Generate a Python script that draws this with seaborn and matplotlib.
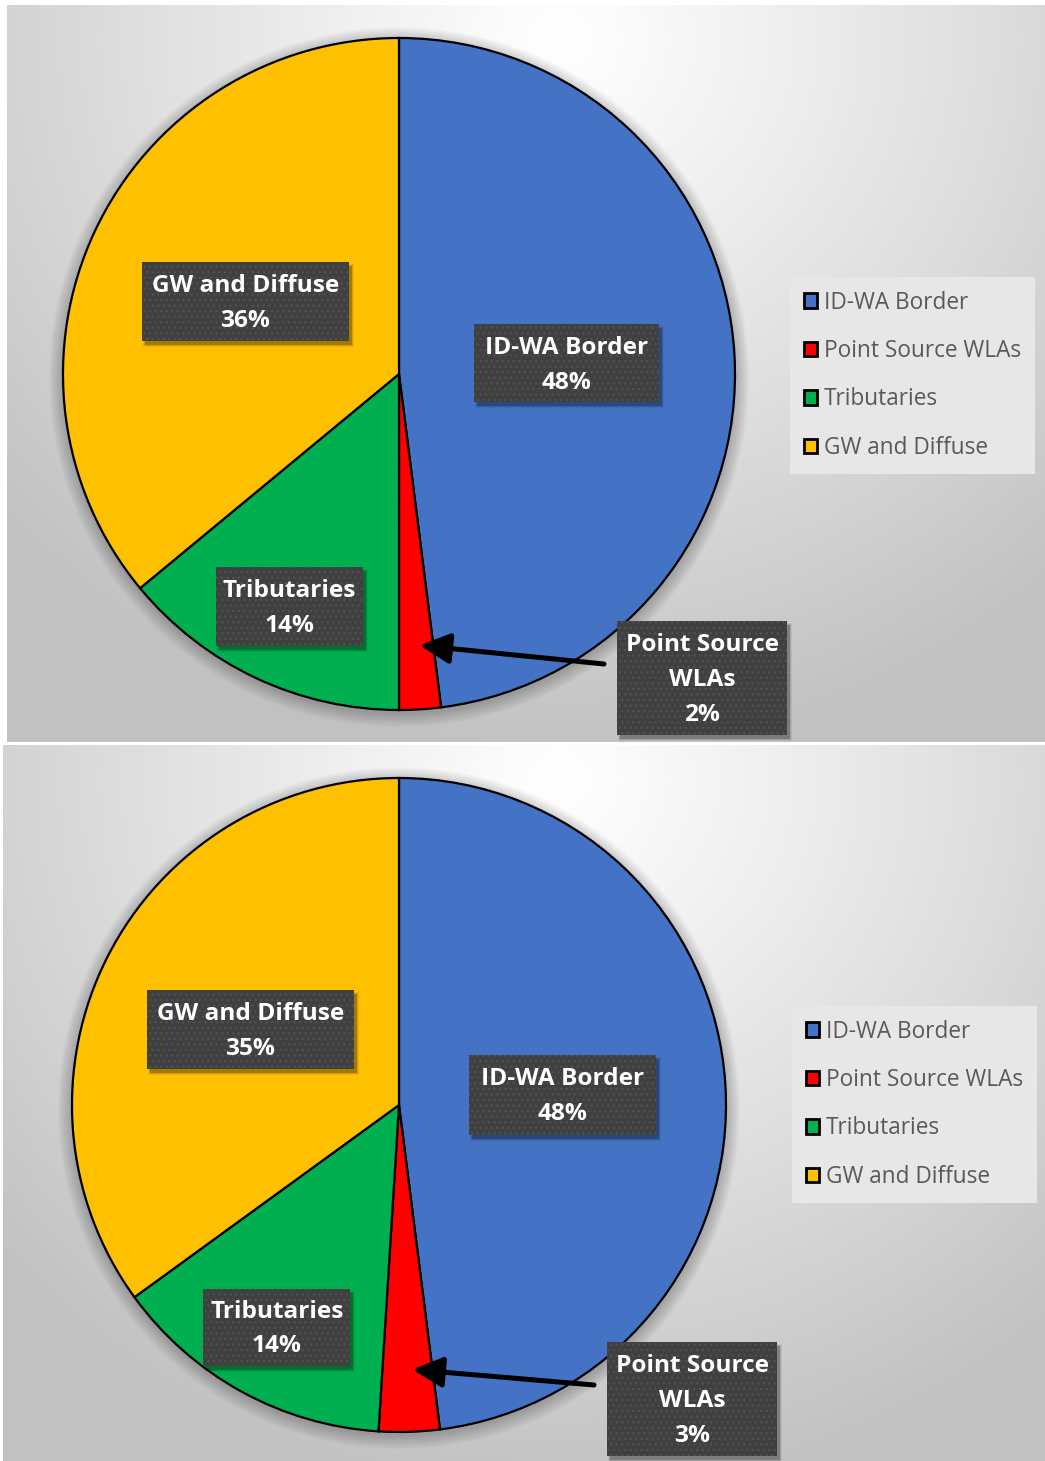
import numpy as np
import matplotlib
matplotlib.use("Agg")
import matplotlib.pyplot as plt
import seaborn as sns
from matplotlib.patches import Rectangle, Circle

# ---- data -------------------------------------------------------------
categories = ["ID-WA Border", "Point Source WLAs", "Tributaries", "GW and Diffuse"]
shares_top = [48, 2, 14, 36]
shares_bottom = [48, 3, 14, 35]
colors = ["#4472C4", "#FF0000", "#00B050", "#FFC000"]
inner_labels = ["ID-WA Border", "Point Source\nWLAs", "Tributaries", "GW and Diffuse"]

# ---- style ------------------------------------------------------------
sns.set_theme(style="white")
plt.rcParams["font.family"] = ["Open Sans", "DejaVu Sans"]
plt.rcParams["hatch.linewidth"] = 0.8
palette = sns.color_palette(colors)

W, H = 1045, 1461
fig = plt.figure(figsize=(W / 100, H / 100), dpi=100)
fig.patch.set_facecolor("white")


def Y(py):
    """convert a top-based pixel row into the bottom-based data y"""
    return H - py


def draw_panel(rect, values, center, radius, boxes, ps_box, legend_box, grad_center):
    x0, y0, x1, y1 = rect  # pixel rectangle, top-based
    ax = fig.add_axes([x0 / W, (H - y1) / H, (x1 - x0) / W, (y1 - y0) / H])
    ax.set_facecolor("none")

    # radial grey background
    xs = np.arange(x0, x1) + 0.5
    ys = np.arange(y0, y1) + 0.5
    gx, gy = np.meshgrid(xs, ys)
    d = np.hypot(gx - grad_center[0], (gy - grad_center[1]) * 1.05)
    t = np.clip(d / 760.0, 0, 1) ** 1.1
    val = (255 - 62 * t) / 255.0
    img = np.dstack([val, val, val])
    ax.imshow(img, extent=(x0, x1, Y(y1), Y(y0)), origin="upper",
              interpolation="bilinear", zorder=0, aspect="auto")

    cx, cy = center
    # soft shadow under the pie
    for k in range(1, 15):
        ax.add_patch(Circle((cx, Y(cy) - 3), radius + k, color="black",
                            alpha=0.017, lw=0, zorder=1))

    wedges, _ = ax.pie(values, colors=palette, startangle=90, counterclock=False,
                       center=(cx, Y(cy)), radius=radius,
                       wedgeprops=dict(edgecolor="black", linewidth=1.6, zorder=2))
    for w in wedges:
        w.set_zorder(2)

    # cumulative shares give each wedge's angular span
    cum = np.cumsum([0] + list(values))
    total = float(sum(values))

    def point_at(frac_angle, rfrac):
        ang = np.deg2rad(90 - 360 * frac_angle / total)
        return cx + rfrac * radius * np.cos(ang), Y(cy) + rfrac * radius * np.sin(ang)

    def label_box(xc, yc, bw, bh, text):
        # shadow
        for k, a in ((0, 0.22), (2, 0.12), (4, 0.06)):
            ax.add_patch(Rectangle((xc - bw / 2 + 3 - k / 2, yc - bh / 2 - 4 - k / 2),
                                   bw + k, bh + k, facecolor="black", alpha=a,
                                   lw=0, zorder=4))
        ax.add_patch(Rectangle((xc - bw / 2, yc - bh / 2), bw, bh,
                               facecolor="#404040", edgecolor="#404040", lw=0, zorder=5))
        ax.add_patch(Rectangle((xc - bw / 2, yc - bh / 2), bw, bh, fill=False,
                               hatch="...", edgecolor="#535353", lw=0, zorder=6))
        ax.text(xc, yc - 2, text, color="white", fontsize=17.6, fontweight="bold",
                ha="center", va="center", linespacing=1.6, zorder=7)

    for i, (rfrac, bw, bh) in boxes.items():
        mid = (cum[i] + cum[i + 1]) / 2
        xc, yc = point_at(mid, rfrac)
        label_box(xc, yc, bw, bh, f"{inner_labels[i]}\n{values[i]}%")

    # external label for the small slice, with an arrow
    bx, by, bw, bh = ps_box
    label_box(bx, Y(by), bw, bh, f"{inner_labels[1]}\n{values[1]}%")
    tip = point_at(cum[1] + 0.4 * values[1], 0.81)
    ax.annotate("", xy=tip, xytext=(bx - bw / 2 - 13, Y(by) + 14),
                arrowprops=dict(arrowstyle="-|>", color="black", lw=3.6,
                                mutation_scale=46, shrinkA=0, shrinkB=0),
                zorder=8)

    lx, ly = legend_box
    leg = ax.legend(wedges, categories, loc="upper left",
                    bbox_to_anchor=(lx, Y(ly)), bbox_transform=ax.transData,
                    frameon=True, fontsize=16.3, handlelength=0.6, handleheight=0.6,
                    handletextpad=0.3, labelspacing=1.08, borderpad=0.6,
                    borderaxespad=0, fancybox=False)
    leg.get_frame().set_facecolor("#e7e7e7")
    leg.get_frame().set_edgecolor("none")
    leg.get_frame().set_alpha(1)
    for txt in leg.get_texts():
        txt.set_color("#595959")
    for hnd in leg.legend_handles:
        hnd.set_linewidth(2.0)
    leg.set_zorder(9)

    ax.set_xlim(x0, x1)
    ax.set_ylim(Y(y1), Y(y0))
    ax.set_aspect("auto")
    ax.set_xticks([])
    ax.set_yticks([])
    for s in ax.spines.values():
        s.set_visible(True)
        s.set_color("#bcbcbc")
        s.set_linewidth(1.6)
    return ax


# top panel
draw_panel(rect=(7, 5, 1045, 742), values=shares_top, center=(399, 374), radius=336,
           boxes={0: (0.50, 185, 78), 2: (0.765, 147, 79), 3: (0.505, 207, 79)},
           ps_box=(702, 678, 170, 114), legend_box=(790, 277), grad_center=(560, 40))

# bottom panel
draw_panel(rect=(3, 745, 1045, 1461), values=shares_bottom, center=(399, 1105), radius=327,
           boxes={0: (0.50, 187, 80), 2: (0.775, 147, 77), 3: (0.51, 207, 79)},
           ps_box=(692, 1399, 170, 114), legend_box=(792, 1006), grad_center=(560, 780))

fig.savefig("out.png", dpi=100, facecolor="white")
